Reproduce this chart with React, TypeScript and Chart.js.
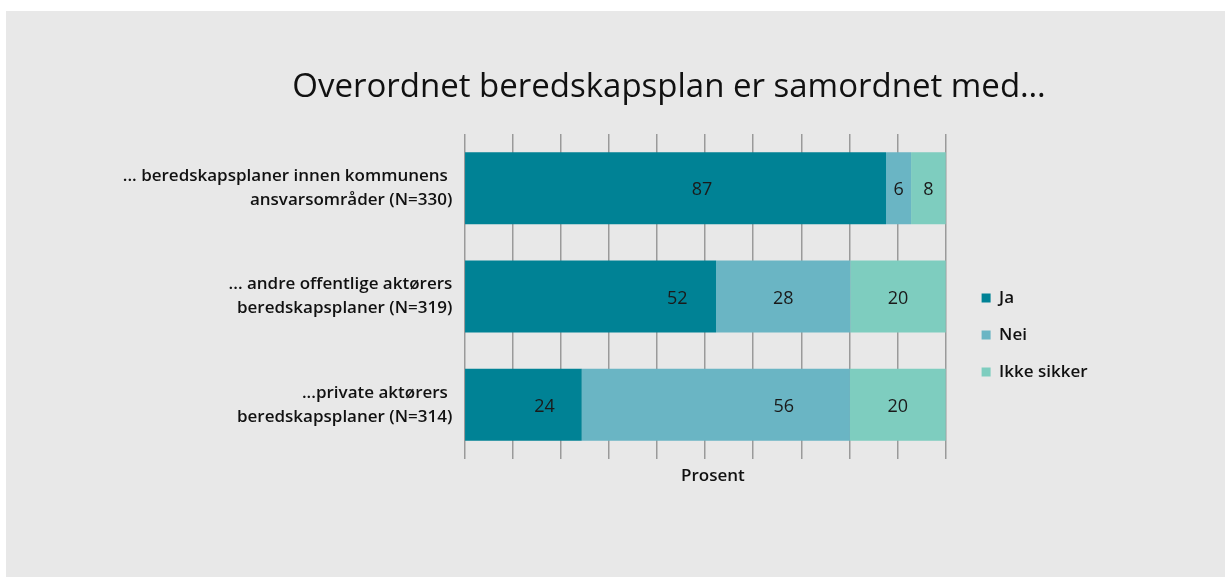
import React, { useEffect, useRef } from "react";
import { Chart, registerables } from "chart.js";

Chart.register(...registerables);

// ---- data ----
const categories: string[][] = [
  ["... beredskapsplaner innen kommunens ", "ansvarsområder (N=330)"],
  ["... andre offentlige aktørers", "beredskapsplaner (N=319)"],
  ["...private aktørers ", "beredskapsplaner (N=314)"],
];
const seriesNames = ["Ja", "Nei", "Ikke sikker"];
const jaValues = [87.6, 52.3, 24.4];
const neiValues = [5.2, 27.9, 55.7];
const ikkeValues = [7.2, 19.8, 19.9];
const jaLabels = ["87", "52", "24"];
const neiLabels = ["6", "28", "56"];
const ikkeLabels = ["8", "20", "20"];
const titleText = "Overordnet beredskapsplan er samordnet med…";
const axisTitle = "Prosent";

// ---- styles ----
const colors = ["#008295", "#6ab5c4", "#7ecdbf"];
// label shift from segment centre, in axis units (as placed in the original)
const labelShift = [
  [5.5, 18.0, 4.4],
  [0, 0, 14.1],
  [0, 0, 0],
];
const FONT = "'Open Sans', 'DejaVu Sans', sans-serif";

export default function App() {
  const ref = useRef<HTMLCanvasElement>(null);

  useEffect(() => {
    if (!ref.current) return;
    const labelTexts = [jaLabels, neiLabels, ikkeLabels];
    const valueLabels = {
      id: "valueLabels",
      afterDatasetsDraw(chart: any) {
        const ctx = chart.ctx;
        const xs = chart.scales.x;
        const unit = xs.getPixelForValue(1) - xs.getPixelForValue(0);
        ctx.save();
        ctx.font = `400 18px ${FONT}`;
        ctx.fillStyle = "#1a1a1a";
        ctx.textAlign = "center";
        ctx.textBaseline = "middle";
        chart.data.datasets.forEach((_ds: any, di: number) => {
          const meta = chart.getDatasetMeta(di);
          meta.data.forEach((bar: any, i: number) => {
            const p = bar.getProps(["x", "y", "base"], true);
            const cx = (p.x + p.base) / 2 + labelShift[di][i] * unit;
            ctx.fillText(labelTexts[di][i], cx, p.y + 2);
          });
        });
        ctx.restore();
      },
    };

    const values = [jaValues, neiValues, ikkeValues];
    const chart = new Chart(ref.current, {
      type: "bar",
      data: {
        labels: categories,
        datasets: seriesNames.map((name, i) => ({
          label: name,
          data: values[i],
          backgroundColor: colors[i],
          borderWidth: 0,
          barPercentage: 0.664,
          categoryPercentage: 1,
        })),
      },
      options: {
        indexAxis: "y",
        animation: false,
        responsive: false,
        maintainAspectRatio: false,
        layout: { padding: { left: 108, right: 0, top: 0, bottom: 90.8 } },
        plugins: {
          tooltip: { enabled: false },
          title: {
            display: true,
            text: titleText,
            color: "#111",
            font: { family: FONT, size: 33, weight: "500" },
            padding: { top: 57, bottom: 26.4 },
          },
          legend: {
            position: "right",
            fullSize: false,
            title: { display: true, text: " ", padding: 28.9, font: { size: 16 } },
            labels: {
              boxWidth: 9,
              boxHeight: 9,
              padding: 20,
              color: "#111",
              font: { family: FONT, size: 17, weight: "600" },
            },
          },
        },
        scales: {
          x: {
            stacked: true,
            min: 0,
            max: 103.3,
            grid: { color: "#9a9a9a", lineWidth: 1.5, drawTicks: false },
            border: { display: false },
            ticks: { display: false, stepSize: 10, includeBounds: false },
            title: {
              display: true,
              text: axisTitle,
              color: "#111",
              font: { family: FONT, size: 17, weight: "600" },
              padding: { top: 6.8, bottom: 0 },
            },
          },
          y: {
            stacked: true,
            grid: { display: false, drawTicks: false },
            border: { display: false },
            ticks: {
              padding: 12,
              color: "#111",
              font: { family: FONT, size: 17, weight: "600", lineHeight: 1.41 },
            },
            afterFit(scale: any) {
              scale.width = 350.3;
            },
          },
          // empty spacer outside the legend so the title centres like the original
          spacer: {
            type: "linear",
            position: "right",
            weight: 2000,
            display: true,
            grid: { display: false, drawTicks: false },
            border: { display: false },
            ticks: { display: false },
            afterFit(scale: any) {
              scale.width = 126.4;
            },
          },
        },
      },
      plugins: [valueLabels],
    } as any);
    return () => chart.destroy();
  }, []);

  return (
    <div style={{ position: "absolute", left: 0, top: 0, width: 1225, height: 577, background: "#fff" }}>
      <div style={{ position: "absolute", left: 6, top: 11, width: 1219, height: 566, background: "#e8e8e8" }}>
        <canvas ref={ref} width={1218} height={566} style={{ display: "block", width: 1218, height: 566 }} />
      </div>
    </div>
  );
}
